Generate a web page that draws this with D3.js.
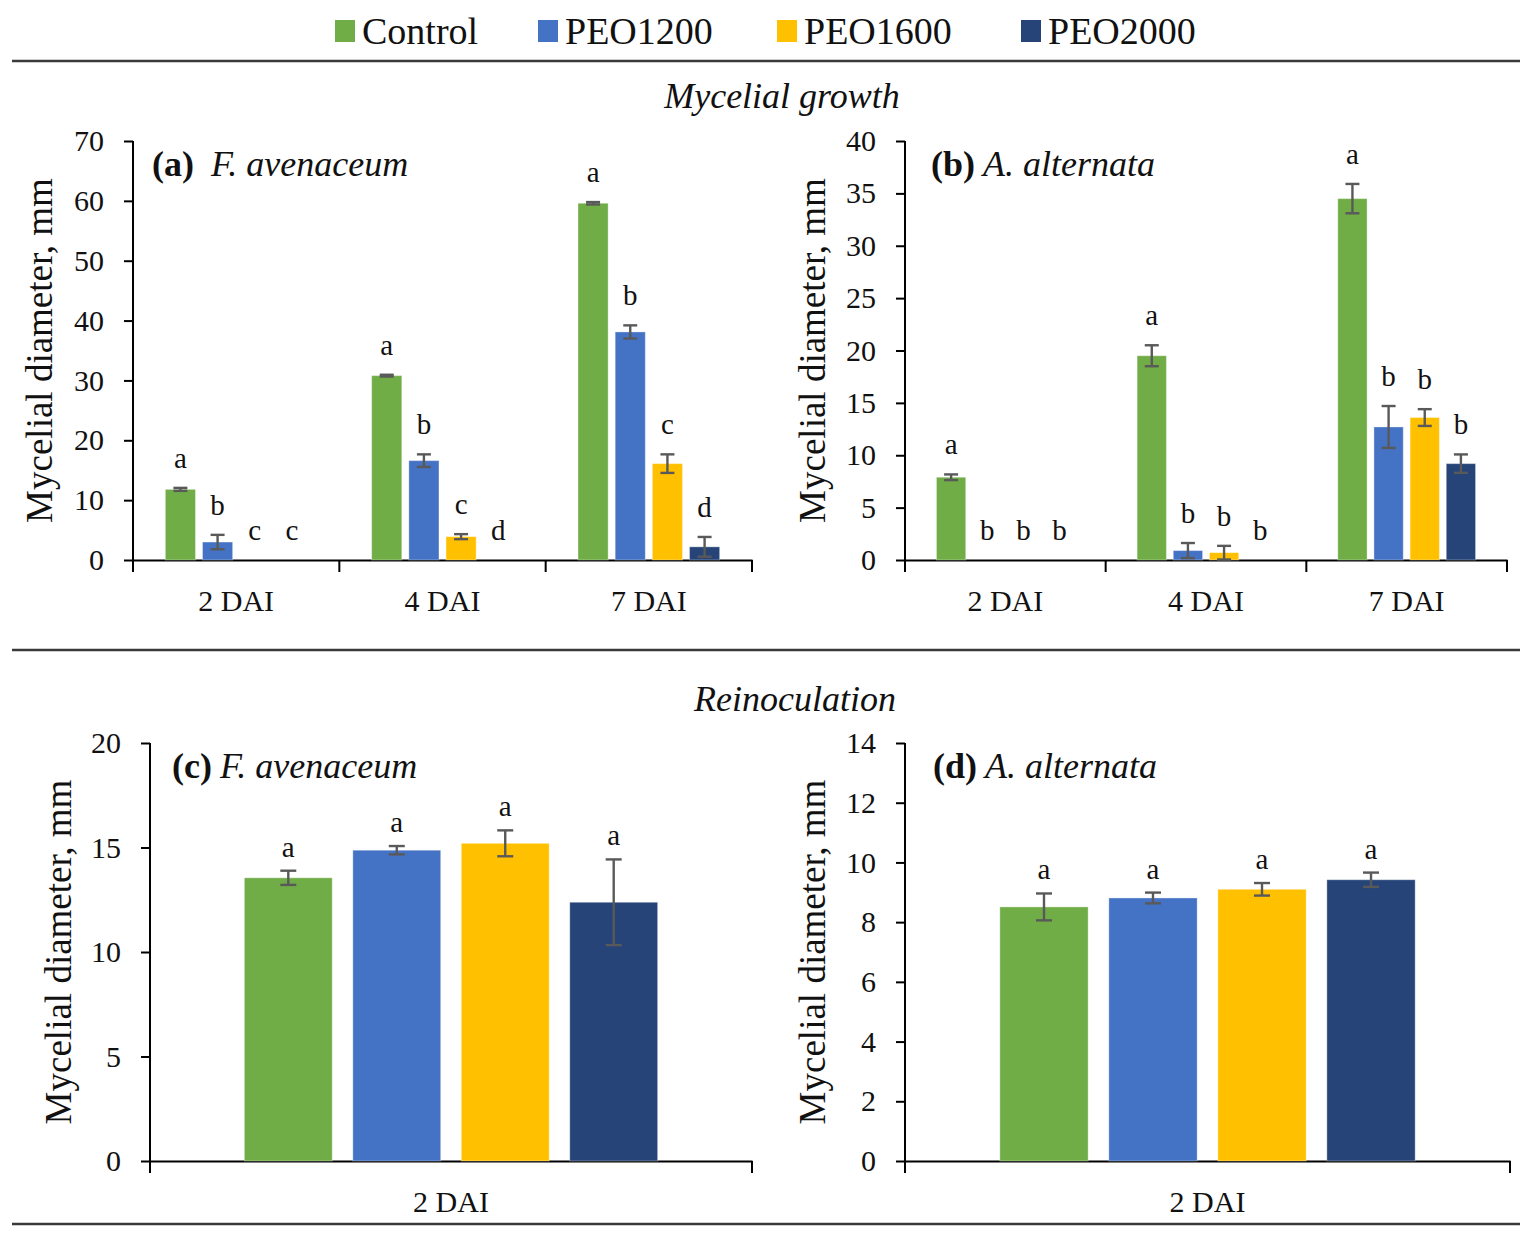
<!DOCTYPE html>
<html>
<head>
<meta charset="utf-8">
<script src="https://cdn.jsdelivr.net/npm/d3@7"></script>
<style>
  body { margin: 0; background: #fff; }
  svg text { font-family: "Liberation Serif", "Times New Roman", serif; fill: #111; }
  .axis path, .axis line { stroke: #000; stroke-width: 2; }
  .axis text { font-size: 30px; }
</style>
</head>
<body>
<script>
const series = ["Control", "PEO1200", "PEO1600", "PEO2000"];
const colors = ["#70AD47", "#4472C4", "#FFC000", "#264478"];
const days = ["2 DAI", "4 DAI", "7 DAI"];
const reDays = ["2 DAI"];

// (a) F. avenaceum, mycelial growth — rows are days, columns are series
const favMean = [[11.8, 3.0, 0, 0], [30.8, 16.6, 3.9, 0], [59.6, 38.1, 16.1, 2.2]];
const favErr = [[0.25, 1.2, 0, 0], [0.15, 1.05, 0.42, 0], [0.2, 1.1, 1.55, 1.65]];
const favLetters = [["a", "b", "c", "c"], ["a", "b", "c", "d"], ["a", "b", "c", "d"]];
const favTicks = [0, 10, 20, 30, 40, 50, 60, 70];

// (b) A. alternata, mycelial growth
const altMean = [[7.9, 0, 0, 0], [19.5, 0.9, 0.7, 0], [34.5, 12.7, 13.6, 9.2]];
const altErr = [[0.27, 0, 0, 0], [1.0, 0.72, 0.65, 0], [1.4, 2.0, 0.8, 0.88]];
const altLetters = [["a", "b", "b", "b"], ["a", "b", "b", "b"], ["a", "b", "b", "b"]];
const altTicks = [0, 5, 10, 15, 20, 25, 30, 35, 40];

// (c) F. avenaceum, reinoculation
const reFavMean = [[13.55, 14.87, 15.2, 12.38]];
const reFavErr = [[0.34, 0.2, 0.62, 2.05]];
const reFavLetters = [["a", "a", "a", "a"]];
const reFavTicks = [0, 5, 10, 15, 20];

// (d) A. alternata, reinoculation
const reAltMean = [[8.51, 8.81, 9.1, 9.42]];
const reAltErr = [[0.45, 0.18, 0.21, 0.24]];
const reAltLetters = [["a", "a", "a", "a"]];
const reAltTicks = [0, 2, 4, 6, 8, 10, 12, 14];

const width = 1533, height = 1239;

const svg = d3.select("body").append("svg")
    .attr("width", width)
    .attr("height", height);

// legend
const legendX = [335, 538, 777, 1021];
const legend = svg.append("g").attr("class", "legend");
series.forEach((s, i) => {
  legend.append("rect")
      .attr("x", legendX[i]).attr("y", 20)
      .attr("width", 20).attr("height", 22)
      .attr("fill", colors[i]);
  legend.append("text")
      .attr("x", legendX[i] + 27).attr("y", 44)
      .style("font-size", "38px")
      .text(s);
});

// separator rules
[61, 650, 1224].forEach(y => {
  svg.append("line")
      .attr("x1", 12).attr("x2", 1520)
      .attr("y1", y).attr("y2", y)
      .attr("stroke", "#3a3a3a").attr("stroke-width", 2.4);
});

svg.append("text")
    .attr("x", 782).attr("y", 108)
    .attr("text-anchor", "middle")
    .style("font-size", "36px").style("font-style", "italic")
    .text("Mycelial growth");

svg.append("text")
    .attr("x", 795).attr("y", 711)
    .attr("text-anchor", "middle")
    .style("font-size", "36px").style("font-style", "italic")
    .text("Reinoculation");

function drawPanel(cfg) {
  const g = svg.append("g");

  const x = d3.scaleBand()
      .domain(cfg.cats)
      .range([cfg.x0, cfg.x1]);

  const xs = d3.scaleBand()
      .domain(series)
      .range([0, x.bandwidth()])
      .paddingInner(0.19)
      .paddingOuter(0.87);

  const y = d3.scaleLinear()
      .domain([0, d3.max(cfg.ticks)])
      .range([cfg.y1, cfg.y0]);

  // y axis
  const yAxis = g.append("g")
      .attr("class", "axis")
      .attr("transform", `translate(${cfg.x0},0)`)
      .call(d3.axisLeft(y).tickValues(cfg.ticks).tickSize(9).tickSizeOuter(0).tickPadding(20));
  yAxis.select(".domain").attr("d", `M0,${cfg.y0}V${cfg.y1 + 12}`);

  // x axis: labels centred on categories, tick marks on category boundaries
  const xAxis = g.append("g")
      .attr("class", "axis")
      .attr("transform", `translate(0,${cfg.y1})`)
      .call(d3.axisBottom(x).tickSize(0).tickPadding(cfg.labelPad));
  xAxis.selectAll(".tick text").style("font-size", "30px");

  const bounds = cfg.cats.map(c => x(c)).concat([cfg.x1]);
  xAxis.selectAll("line.bound")
      .data(bounds)
    .enter().append("line")
      .attr("class", "bound")
      .attr("x1", d => d).attr("x2", d => d)
      .attr("y1", 0).attr("y2", 12);

  // bars
  const rows = [];
  cfg.cats.forEach((c, di) => {
    series.forEach((s, si) => {
      rows.push({
        cat: c, s: s, si: si,
        v: cfg.mean[di][si],
        e: cfg.err[di][si],
        l: cfg.letters[di][si]
      });
    });
  });

  g.selectAll("rect.bar")
      .data(rows.filter(d => d.v > 0))
    .enter().append("rect")
      .attr("class", "bar")
      .attr("x", d => x(d.cat) + xs(d.s))
      .attr("width", xs.bandwidth())
      .attr("y", d => y(d.v))
      .attr("height", d => y(0) - y(d.v))
      .attr("fill", d => colors[d.si])
      .attr("stroke", "#ffffff")
      .attr("stroke-opacity", 0.35)
      .attr("stroke-width", 1);

  // error bars
  const cap = cfg.cap;
  const eb = g.selectAll("g.err")
      .data(rows.filter(d => d.v > 0))
    .enter().append("g")
      .attr("class", "err")
      .attr("stroke", "#595959")
      .attr("stroke-width", 2.4);
  const cx = d => x(d.cat) + xs(d.s) + xs.bandwidth() / 2;
  eb.append("line")
      .attr("x1", cx).attr("x2", cx)
      .attr("y1", d => y(d.v + d.e)).attr("y2", d => y(Math.max(0, d.v - d.e)));
  eb.append("line")
      .attr("x1", d => cx(d) - cap).attr("x2", d => cx(d) + cap)
      .attr("y1", d => y(d.v + d.e)).attr("y2", d => y(d.v + d.e));
  eb.append("line")
      .attr("x1", d => cx(d) - cap).attr("x2", d => cx(d) + cap)
      .attr("y1", d => y(Math.max(0, d.v - d.e))).attr("y2", d => y(Math.max(0, d.v - d.e)));

  // significance letters
  g.selectAll("text.letter")
      .data(rows)
    .enter().append("text")
      .attr("class", "letter")
      .attr("x", cx)
      .attr("y", d => y(d.v + d.e) - cfg.letterGap)
      .attr("text-anchor", "middle")
      .style("font-size", "29px")
      .text(d => d.l);

  // y axis title
  g.append("text")
      .attr("transform", `translate(${cfg.titleX},${(cfg.y0 + cfg.y1) / 2})rotate(-90)`)
      .attr("text-anchor", "middle")
      .style("font-size", "37px")
      .text("Mycelial diameter, mm");

  // panel label
  const lab = g.append("text")
      .attr("x", cfg.x0 + cfg.labelDx)
      .attr("y", cfg.y0 + 35)
      .style("font-size", "36px");
  lab.append("tspan").style("font-weight", "bold").text(cfg.tag);
  lab.append("tspan").attr("dx", cfg.tagGap).style("font-style", "italic").text(cfg.species);
}

drawPanel({
  cats: days, mean: favMean, err: favErr, letters: favLetters, ticks: favTicks,
  x0: 133, x1: 752, y0: 141, y1: 560, cap: 7, letterGap: 20, labelPad: 30,
  titleX: 52, labelDx: 19, tag: "(a)", species: "F. avenaceum", tagGap: 17
});

drawPanel({
  cats: days, mean: altMean, err: altErr, letters: altLetters, ticks: altTicks,
  x0: 905, x1: 1507, y0: 141, y1: 560, cap: 7, letterGap: 20, labelPad: 30,
  titleX: 825, labelDx: 26, tag: "(b)", species: "A. alternata", tagGap: 8
});

drawPanel({
  cats: reDays, mean: reFavMean, err: reFavErr, letters: reFavLetters, ticks: reFavTicks,
  x0: 150, x1: 752, y0: 743, y1: 1161, cap: 8, letterGap: 14, labelPad: 30,
  titleX: 71, labelDx: 22, tag: "(c)", species: "F. avenaceum", tagGap: 8
});

drawPanel({
  cats: reDays, mean: reAltMean, err: reAltErr, letters: reAltLetters, ticks: reAltTicks,
  x0: 905, x1: 1510, y0: 743, y1: 1161, cap: 8, letterGap: 14, labelPad: 30,
  titleX: 825, labelDx: 28, tag: "(d)", species: "A. alternata", tagGap: 8
});
</script>
</body>
</html>
